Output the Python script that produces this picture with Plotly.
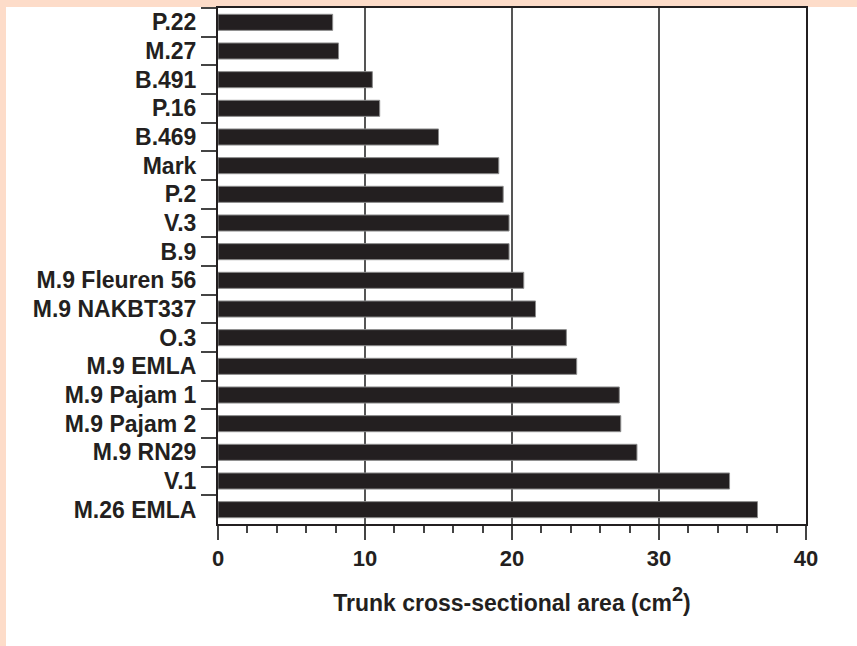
import plotly.graph_objects as go

categories = ["P.22", "M.27", "B.491", "P.16", "B.469", "Mark", "P.2", "V.3", "B.9",
              "M.9 Fleuren 56", "M.9 NAKBT337", "O.3", "M.9 EMLA", "M.9 Pajam 1",
              "M.9 Pajam 2", "M.9 RN29", "V.1", "M.26 EMLA"]
values = [7.8, 8.2, 10.5, 11.0, 15.0, 19.1, 19.4, 19.8, 19.8,
          20.8, 21.6, 23.7, 24.4, 27.3, 27.4, 28.5, 34.8, 36.7]
x_ticks = [0, 10, 20, 30, 40]

W, H = 857, 646
L, R, T, B = 218, 51, 6, 122
pw, ph = W - L - R, H - T - B
peach = "#fddcc9"

fig = go.Figure(go.Bar(
    x=values, y=categories, orientation="h", width=0.56,
    marker=dict(color="#231f20", line=dict(color="#8a8a8a", width=1)),
))

font = "Liberation Sans, Arial, sans-serif"
fig.update_layout(
    width=W, height=H,
    margin=dict(l=L, r=R, t=T, b=B),
    paper_bgcolor="white",
    plot_bgcolor="rgba(0,0,0,0)",
    showlegend=False,
    font=dict(family=font, size=23, color="#231f20"),
    shapes=[
        dict(type="rect", xref="paper", yref="paper", layer="below",
             x0=-L / pw, x1=(6 - L) / pw, y0=-(B + 20) / ph, y1=(ph + T + 5) / ph,
             fillcolor=peach, line=dict(width=0)),
        dict(type="rect", xref="paper", yref="paper", layer="below",
             x0=-L / pw, x1=(W + 20 - L) / pw, y0=(ph + T - 5) / ph, y1=(ph + T + 5) / ph,
             fillcolor=peach, line=dict(width=0)),
    ],
)
fig.update_xaxes(
    range=[0, 40], tickvals=x_ticks, ticktext=[str(v) for v in x_ticks],
    showgrid=True, gridcolor="#555555", gridwidth=1.5,
    showline=True, linecolor="#231f20", linewidth=2, mirror=True,
    ticks="outside", ticklen=14, tickwidth=1.5, tickcolor="#444444",
    minor=dict(dtick=2, ticks="outside", ticklen=7, tickwidth=1.5, tickcolor="#444444", showgrid=False),
    tickfont=dict(family=font, size=22, color="#231f20", weight="bold"),
    title=dict(text="<b>Trunk cross-sectional area (cm<sup><span style='font-size:20px'>2</span></sup>)</b>",
               font=dict(family=font, size=23, color="#231f20"), standoff=24),
    zeroline=False, fixedrange=True,
)
fig.update_yaxes(
    categoryorder="array", categoryarray=categories, autorange="reversed",
    tickson="boundaries", ticks="outside", ticklen=15, tickwidth=1.5, tickcolor="#444444",
    ticklabelstandoff=15,
    showline=True, linecolor="#231f20", linewidth=2, mirror=True,
    showgrid=False, zeroline=False,
    tickfont=dict(family=font, size=23, color="#231f20", weight="bold"),
    fixedrange=True,
)
fig.write_html("out.html", config={"displayModeBar": False},
               post_script="document.body.style.margin='0';document.body.style.overflow='hidden';")
